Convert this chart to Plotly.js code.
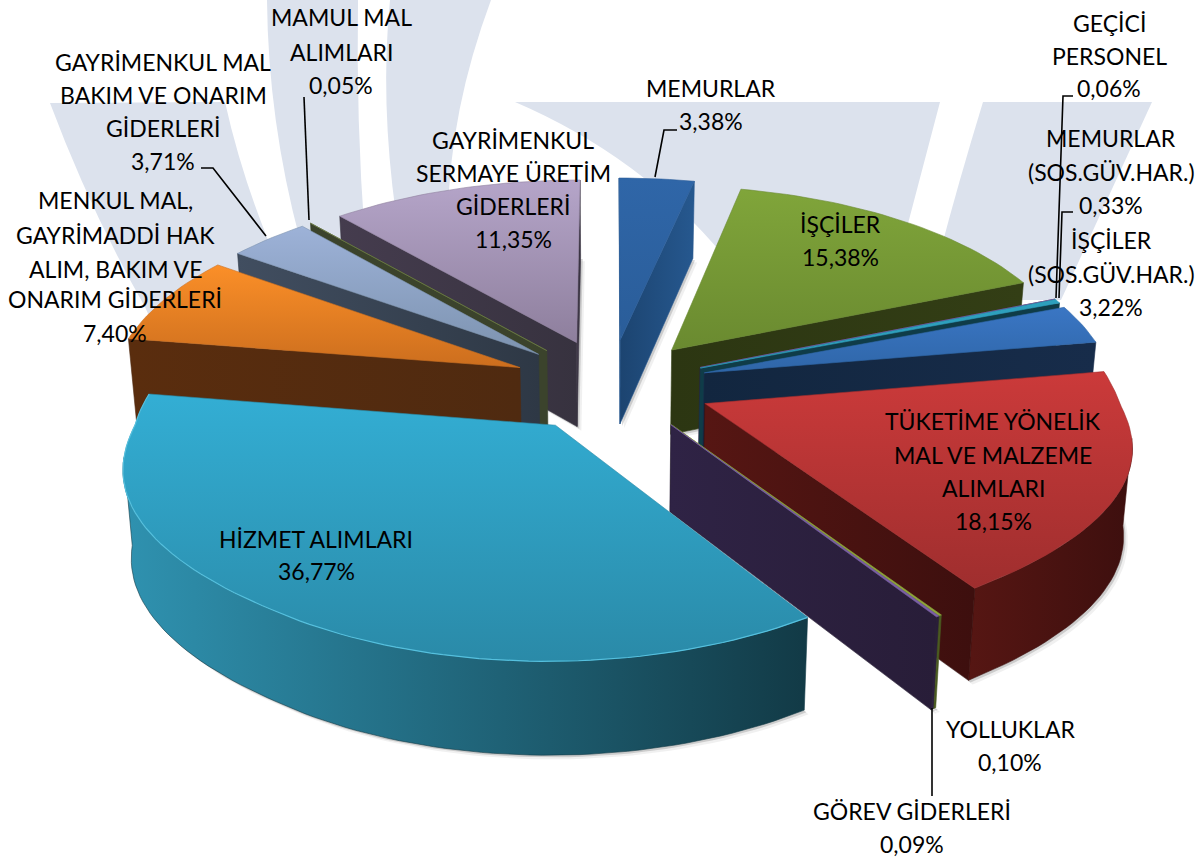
<!DOCTYPE html>
<html><head><meta charset="utf-8">
<script src="https://cdn.plot.ly/plotly-3.0.1.min.js"></script>
<style>html,body{margin:0;padding:0;background:#fff}#c{width:1202px;height:857px}</style>
</head><body><div id="c"></div>
<script>
// --- data, clockwise from the top, percent
const categories = ["MEMURLAR","İŞÇİLER","GEÇİCİ PERSONEL","MEMURLAR (SOS.GÜV.HAR.)","İŞÇİLER (SOS.GÜV.HAR.)","TÜKETİME YÖNELİK MAL VE MALZEME ALIMLARI","GÖREV GİDERLERİ","YOLLUKLAR","HİZMET ALIMLARI","MENKUL MAL, GAYRİMADDİ HAK ALIM, BAKIM VE ONARIM GİDERLERİ","GAYRİMENKUL MAL BAKIM VE ONARIM GİDERLERİ","MAMUL MAL ALIMLARI","GAYRİMENKUL SERMAYE ÜRETİM GİDERLERİ"];
const values = [3.38,15.38,0.06,0.33,3.22,18.15,0.09,0.10,36.77,7.40,3.71,0.05,11.35];
const labelLines = [
 ["MEMURLAR","3,38%"],["İŞÇİLER","15,38%"],["GEÇİCİ","PERSONEL","0,06%"],["MEMURLAR","(SOS.GÜV.HAR.)","0,33%"],
 ["İŞÇİLER","(SOS.GÜV.HAR.)","3,22%"],["TÜKETİME YÖNELİK","MAL VE MALZEME","ALIMLARI","18,15%"],["GÖREV GİDERLERİ","0,09%"],
 ["YOLLUKLAR","0,10%"],["HİZMET ALIMLARI","36,77%"],["MENKUL MAL,","GAYRİMADDİ HAK","ALIM, BAKIM VE","ONARIM GİDERLERİ","7,40%"],
 ["GAYRİMENKUL MAL","BAKIM VE ONARIM","GİDERLERİ","3,71%"],["MAMUL MAL","ALIMLARI","0,05%"],["GAYRİMENKUL","SERMAYE ÜRETİM","GİDERLERİ","11,35%"]];
// --- styling
const labelX = [711,840,1109,1111,1111,993,912,1010,316,115,163,341,513];
const labelY = [[88,121],[224,257],[23,56,88],[138,172,205],[240,274,307],[421,455,488,521],[811,844],[729,762],[539,571],[200,235,269,299,333],[62,95,128,161],[17,52,85],[140,173,206,239]];
const topColors = [["#2f66a8","#2a5d99"],["#80a53a","#6a8a30"],["#7a5ba0","#7a5ba0"],["#2ea0bd","#2ea0bd"],["#3a76c4","#2f66a8"],["#cb3a3a","#9f2e2e"],["#8fa83a","#8fa83a"],["#7b5fa8","#7b5fa8"],["#33aed4","#2a8aa8"],["#fb8f28","#cc6e1e"],["#9db2d8","#7d93b0"],["#6f7f47","#6f7f47"],["#b5a5c9","#8e7f9d"]];
const wallColors = [["#1c4470","#26588f"],["#2c3612","#333e15"],["#2c2040","#2c2040"],["#0f3c48","#0f3c48"],["#12263f","#172c4a"],["#561613","#3d0f0e"],["#4a5a20","#4a5a20"],["#2f2345","#281d38"],["#2f92b0","#123a46"],["#5a2d0e","#4f2a10"],["#414e60","#2e3845"],["#3b432c","#3b432c"],["#453c4e","#37323f"]];
const rimLight = {8:"#55c0de"};
const sideNudge = {5:0.008,6:0.012,7:0.012};
const leaders = [
 [[655,177],[664,130],[677,130]],
 [[1056,298],[1063,96],[1073,96]],
 [[1059,298],[1062,212],[1073,212]],
 [[932,708],[932,796]],
 [[266,236],[213,168],[201,168]],
 [[309,220],[304,97]]
];
const logoPaths = [
 "M50,103 L225,102 Q240,170 268,240 L300,320 L160,340 L145,307 Q90,210 50,103 Z",
 "M267,0 L358,0 Q356,120 365,240 L300,240 Q268,120 267,0 Z",
 "M390,0 L491,0 Q450,110 448,215 L396,215 Q380,100 390,0 Z",
 "M515,102 L940,102 L905,235 L895,270 L735,270 Q650,160 515,102 Z",
 "M983,102 L1152,102 L1061,300 L928,300 Q950,210 983,102 Z"
];
// --- projection of the exploded pie
const CX=610, CY=385, R=410, RK=194, PX=0.122, PY=0.13, PULL=0.24, SHRINK=0.983, BULGE=0.028;
function project(u,v,low){
  const x=CX+R*u/(1+PX*v), y=CY-RK*v/(1+PY*v);
  return low ? [CX+(x-CX)*SHRINK, y+85.5-7*v] : [x,y];
}
const total = values.reduce((a,b)=>a+b,0);
let acc=0;
const slices = values.map((val,i)=>{
  const a0=acc/total*2*Math.PI; acc+=val; const a1=acc/total*2*Math.PI;
  const mid=(a0+a1)/2;
  return {i,a0,a1,px:PULL*Math.sin(mid)+(sideNudge[i]||0),py:PULL*Math.cos(mid)};
});
function rim(s,t){
  const w=Math.max(0,-Math.cos(t));
  const b=BULGE*Math.sin(Math.PI*Math.min(w/0.8,1))*Math.sign(Math.sin(t));
  return [s.px+Math.sin(t)+b, s.py+Math.cos(t)];
}
function angles(a,b){const n=Math.max(2,Math.ceil((b-a)/(Math.PI/120)));const o=[];for(let k=0;k<=n;k++)o.push(a+(b-a)*k/n);return o;}
function poly(pts,c,vertical,name){
  const xs=pts.map(p=>p[0]), ys=pts.map(p=>p[1]);
  const tr={type:'scatter',mode:'lines',x:xs.concat(xs[0]),y:ys.concat(ys[0]),fill:'toself',hoverinfo:'skip',showlegend:false,
    line:{color:c[1],width:0.6}};
  const lo=vertical?Math.min(...ys):Math.min(...xs), hi=vertical?Math.max(...ys):Math.max(...xs);
  if(c[0]!==c[1]&&hi>lo){
    tr.fillgradient={type:vertical?'vertical':'horizontal',start:lo,stop:hi,colorscale:[[0,c[0]],[1,c[1]]]};
  } else tr.fillcolor=c[0];
  tr.name=name; return tr;
}
const traces=[];
// soft shadows
[[7,"rgba(160,160,160,0.16)"],[3.5,"rgba(110,110,110,0.28)"]].forEach(([off,col])=>{
  slices.forEach(s=>{
    const pts=[project(s.px,s.py,true)].concat(angles(s.a0,s.a1).map(t=>{const r=rim(s,t);return project(r[0],r[1],true);}));
    traces.push({type:'scatter',mode:'lines',x:pts.map(p=>p[0]+off*0.6).concat(pts[0][0]+off*0.6),y:pts.map(p=>p[1]+off*0.6).concat(pts[0][1]+off*0.6),fill:'toself',fillcolor:col,line:{width:0,color:col},hoverinfo:'skip',showlegend:false});
  });
});
const camV=-1/PX;
slices.slice().sort((a,b)=>b.py-a.py).forEach(s=>{
  const i=s.i, nm=categories[i];
  // outer wall: front-facing part of the rim
  let run=[];
  const flush=()=>{ if(run.length>1){
      const up=run.map(t=>{const r=rim(s,t);return project(r[0],r[1],false);});
      const dn=run.map(t=>{const r=rim(s,t);return project(r[0],r[1],true);}).reverse();
      traces.push(poly(up.concat(dn),wallColors[i],false,nm));
    } run=[]; };
  angles(s.a0,s.a1).forEach(t=>{
    const r=rim(s,t);
    const dot=Math.sin(t)*(0-r[0])+Math.cos(t)*(camV-r[1]);
    if(dot>0) run.push(t); else flush();
  });
  flush();
  // radial faces
  [[s.a0,-1],[s.a1,1]].forEach(([t,sg])=>{
    const nx=sg*Math.cos(t), ny=-sg*Math.sin(t);
    const r=rim(s,t);
    const dot=nx*(0-r[0])+ny*(camV-r[1]);
    if(dot>0){
      const a=project(s.px,s.py,false),b=project(r[0],r[1],false),c=project(r[0],r[1],true),d=project(s.px,s.py,true);
      traces.push(poly([a,b,c,d],wallColors[i],false,nm));
    }
  });
  // top face
  const top=[project(s.px,s.py,false)].concat(angles(s.a0,s.a1).map(t=>{const r=rim(s,t);return project(r[0],r[1],false);}));
  traces.push(poly(top,topColors[i],true,nm));
  // bevel highlight along the rim
  if(rimLight[i]){
    const edge=angles(s.a0,s.a1).map(t=>{const r=rim(s,t);return project(r[0],r[1],false);});
    traces.push({type:'scatter',mode:'lines',x:edge.map(p=>p[0]),y:edge.map(p=>p[1]),line:{color:rimLight[i],width:1.2},hoverinfo:'skip',showlegend:false});
  }
});
// leader lines
leaders.forEach(l=>traces.push({type:'scatter',mode:'lines',x:l.map(p=>p[0]),y:l.map(p=>p[1]),line:{color:'#000',width:1.6},hoverinfo:'skip',showlegend:false}));
// labels
const annotations=[];
labelLines.forEach((lines,i)=>lines.forEach((t,j)=>annotations.push({
  x:labelX[i],y:labelY[i][j],xref:'x',yref:'y',text:t,showarrow:false,xanchor:'center',yanchor:'middle',
  font:{family:'Lato, "Open Sans", sans-serif',size:23,color:'#000'}
})));
const shapes=logoPaths.map(p=>({type:'path',path:p,fillcolor:'#dce2ed',line:{width:0},layer:'below'}));
Plotly.newPlot('c',traces,{
  width:1202,height:857,margin:{l:0,r:0,t:0,b:0},showlegend:false,paper_bgcolor:'#fff',plot_bgcolor:'rgba(0,0,0,0)',
  xaxis:{range:[0,1202],visible:false,fixedrange:true},
  yaxis:{range:[857,0],visible:false,fixedrange:true},
  shapes,annotations
},{displayModeBar:false,staticPlot:true});
</script></body></html>
